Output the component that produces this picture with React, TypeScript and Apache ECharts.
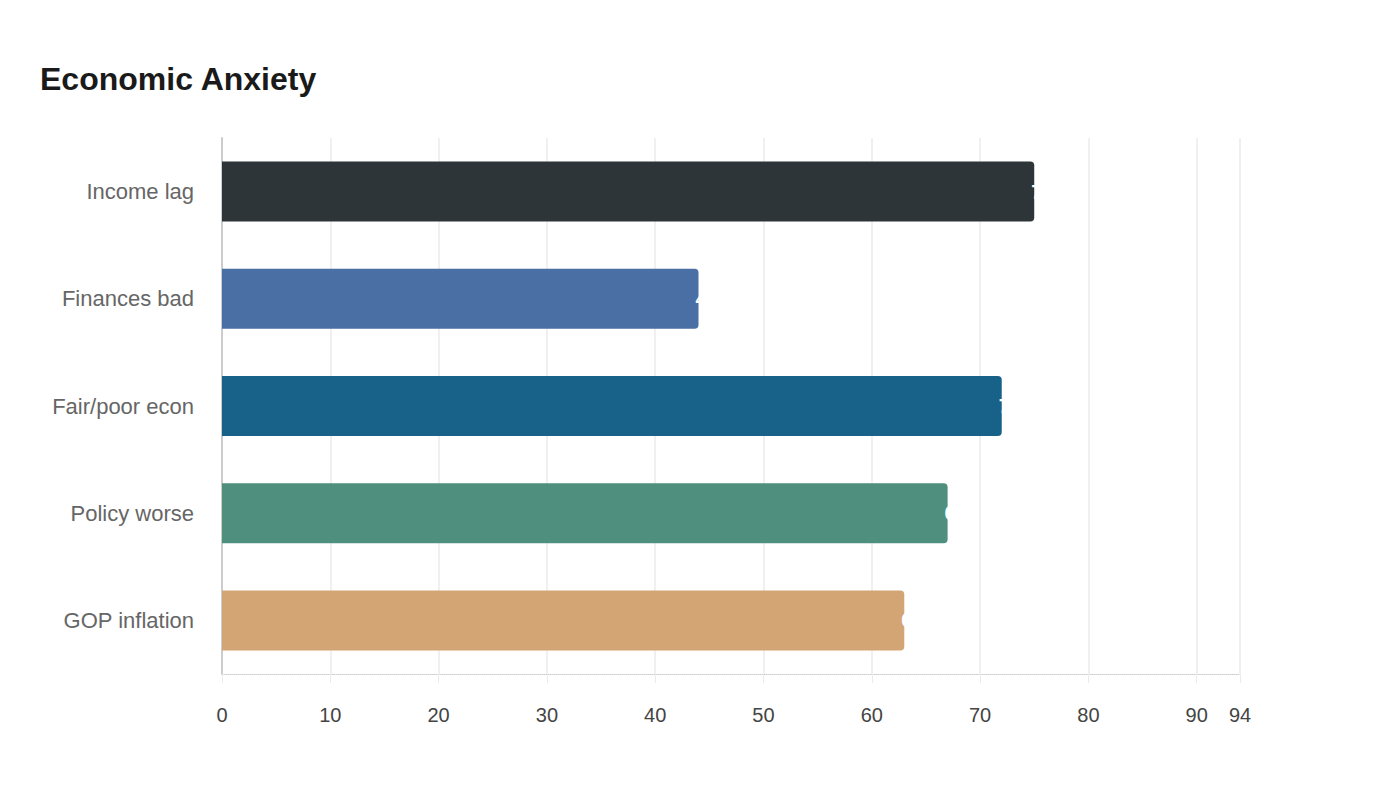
import { useEffect, useRef } from "react";
import * as echarts from "echarts";

const categories = ["Income lag", "Finances bad", "Fair/poor econ", "Policy worse", "GOP inflation"];
const values = [75, 44, 72, 67, 63];
const barColors = ["#2d3538", "#4a6fa5", "#186188", "#4f8f7d", "#d4a574"];

export default function App() {
  const chartRef = useRef<HTMLDivElement>(null);

  useEffect(() => {
    if (!chartRef.current) return;
    const chart = echarts.init(chartRef.current, null, { renderer: "svg" });

    chart.setOption({
      animation: false,
      textStyle: { fontFamily: "Liberation Sans, Arial, sans-serif" },
      title: {
        text: "Economic Anxiety",
        left: 27,
        top: 50,
        textStyle: { fontSize: 32, fontWeight: "bold", color: "#1a1a1a" },
      },
      grid: { left: 214, right: 152, top: 130, bottom: 118 },
      xAxis: {
        type: "value",
        min: 0,
        max: 94,
        interval: 10,
        axisLine: { show: true, lineStyle: { color: "#cccccc", type: "dotted" } },
        axisTick: { show: true, length: 9, lineStyle: { color: "#ebebeb" } },
        splitLine: { show: true, lineStyle: { color: "#ebebeb", width: 1.5 } },
        axisLabel: { fontSize: 20, color: "#444444", margin: 31 },
      },
      yAxis: {
        type: "category",
        data: categories,
        inverse: true,
        axisLine: { show: true, lineStyle: { color: "#cccccc", width: 2 } },
        axisTick: { show: false },
        axisLabel: { fontSize: 22, color: "#666666", margin: 28 },
      },
      series: [
        {
          type: "bar",
          barWidth: 60,
          data: values.map((v, i) => ({ value: v, itemStyle: { color: barColors[i] } })),
          itemStyle: { borderRadius: [0, 4, 4, 0] },
          label: {
            show: true,
            position: "right",
            distance: -3,
            color: "#ffffff",
            fontSize: 20,
            fontWeight: "bold",
          },
        },
      ],
    });

    return () => chart.dispose();
  }, []);

  return <div ref={chartRef} style={{ width: 1384, height: 784 }} />;
}
